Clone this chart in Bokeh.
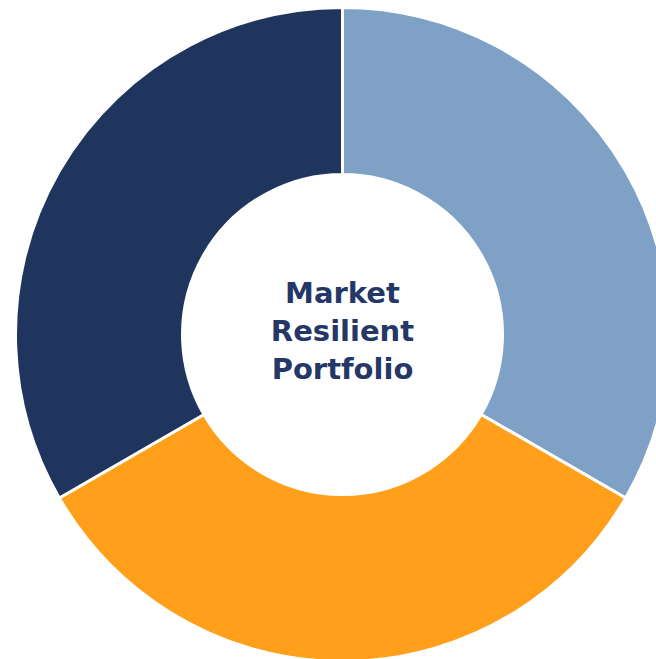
import numpy as np
from bokeh.plotting import figure
from bokeh.models import Range1d, ColumnDataSource
from bokeh.core.properties import value
from bokeh.embed import file_html
from bokeh.resources import INLINE

segments = ["Segment 1", "Segment 2", "Segment 3"]
shares = [1, 1, 1]
colors = ["#7FA1C6", "#FF9F1A", "#20355E"]
center_lines = ["Market", "Resilient", "Portfolio"]

total = float(sum(shares))
cum = np.cumsum([0] + shares) / total
start = np.pi / 2 - cum[:-1] * 2 * np.pi
end = np.pi / 2 - cum[1:] * 2 * np.pi

src = ColumnDataSource(dict(seg=segments, start=start, end=end, color=colors))

W, H = 656, 659
p = figure(width=W, height=H, output_backend="svg", toolbar_location=None,
           x_range=Range1d(-342, 314), y_range=Range1d(-325, 334),
           min_border=0)
p.axis.visible = False
p.grid.visible = False
p.outline_line_color = None
p.background_fill_color = "white"
p.border_fill_color = "white"

p.annular_wedge(x=0, y=0, inner_radius=160, outer_radius=327,
                start_angle="start", end_angle="end", direction="clock",
                fill_color="color", line_color="white", line_width=3, source=src)

n = len(center_lines)
spacing = 38
ys = [3.5 + ((n - 1) / 2 - i) * spacing for i in range(n)]
p.text(x=[0] * n, y=ys, text=center_lines, text_align="center", text_baseline="middle",
       text_font=value("DejaVu Sans"), text_font_style="bold", text_font_size="29px",
       text_color="#243766")

open("out.html", "w").write(file_html(p, INLINE))
